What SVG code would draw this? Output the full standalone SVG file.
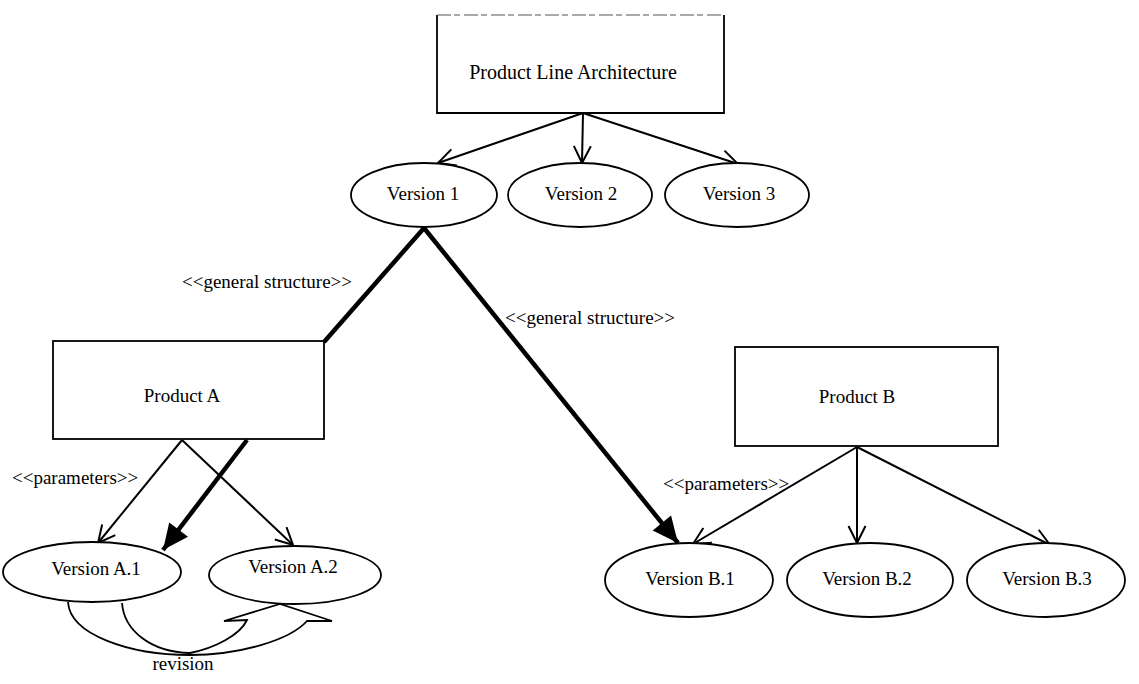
<svg xmlns="http://www.w3.org/2000/svg" width="1139" height="684" viewBox="0 0 1139 684">
<style>
  .box { fill: #fff; stroke: #000; stroke-width: 1.8; }
  .ell { fill: #fff; stroke: #000; stroke-width: 1.8; }
  .lbl { font-family: "Liberation Serif", "Times New Roman", serif; font-size: 19px; fill: #000; }
  .ctr { text-anchor: middle; }
  .thin { fill: none; stroke: #000; stroke-width: 2; marker-end: url(#open); }
  .thick { fill: none; stroke: #000; stroke-width: 4.5; }
</style>
<defs>
  <marker id="open" markerUnits="userSpaceOnUse" markerWidth="24" markerHeight="24" viewBox="-20 -12 24 24" refX="0" refY="0" orient="auto">
    <path d="M -17,-8.5 L 0,0 L -17,8.5" fill="none" stroke="#000" stroke-width="2"/>
  </marker>
  <marker id="solid" markerUnits="userSpaceOnUse" markerWidth="30" markerHeight="30" viewBox="-26 -14 28 28" refX="0" refY="0" orient="auto">
    <path d="M -24,-11 L 0,0 L -24,11 Z" fill="#000"/>
  </marker>
</defs>
<rect width="1139" height="684" fill="#fff"/>

<g id="connectors">
  <line class="thin" x1="583" y1="113" x2="438" y2="163"/>
  <line class="thin" x1="583" y1="113" x2="582" y2="163"/>
  <line class="thin" x1="583" y1="113" x2="738" y2="164"/>
  <line class="thick" x1="424" y1="228" x2="324" y2="342"/>
  <line class="thick" x1="424" y1="228" x2="678" y2="543" marker-end="url(#solid)"/>
  <line class="thick" x1="247" y1="440" x2="163" y2="550" marker-end="url(#solid)"/>
  <line class="thin" x1="182" y1="440" x2="98" y2="543"/>
  <line class="thin" x1="182" y1="440" x2="293" y2="545"/>
  <line class="thin" x1="857" y1="447" x2="693" y2="544"/>
  <line class="thin" x1="857" y1="447" x2="857" y2="543"/>
  <line class="thin" x1="857" y1="447" x2="1050" y2="545"/>
  <path id="revision-arrow" d="M 68,602 C 70,635 130,655 190,655 C 240,655 290,640 307,621 L 332,621 L 280,604 L 224,621 L 247,620 C 240,635 215,648 190,653 C 150,652 124,630 122,603" fill="none" stroke="#000" stroke-width="1.8" stroke-linejoin="miter"/>
  <text class="lbl" x="182" y="288">&lt;&lt;general structure&gt;&gt;</text>
  <text class="lbl" x="505" y="324">&lt;&lt;general structure&gt;&gt;</text>
  <text class="lbl" x="12" y="484">&lt;&lt;parameters&gt;&gt;</text>
  <text class="lbl" x="663" y="490">&lt;&lt;parameters&gt;&gt;</text>
  <text class="lbl ctr" x="183" y="670">revision</text>
</g>

<g id="pla">
  <rect x="437" y="15" width="287" height="98" fill="#fff" stroke="none"/>
  <path d="M 437,15 L 437,113 L 724,113 L 724,15" fill="none" stroke="#000" stroke-width="1.8"/>
  <line x1="437" y1="15" x2="724" y2="15" stroke="#555" stroke-width="1.2" stroke-dasharray="14 3 6 4"/>
  <text class="lbl ctr" x="573" y="79" style="font-size:20px">Product  Line Architecture</text>
</g>

<g id="v1">
  <ellipse class="ell" cx="424" cy="195" rx="73" ry="32"/>
  <text class="lbl ctr" x="423" y="200">Version 1</text>
</g>
<g id="v2">
  <ellipse class="ell" cx="580" cy="195" rx="72" ry="32"/>
  <text class="lbl ctr" x="581" y="200">Version 2</text>
</g>
<g id="v3">
  <ellipse class="ell" cx="737" cy="195" rx="72" ry="32"/>
  <text class="lbl ctr" x="739" y="200">Version 3</text>
</g>

<g id="productA">
  <rect class="box" x="53" y="341" width="271" height="98"/>
  <text class="lbl ctr" x="182" y="402">Product  A</text>
</g>
<g id="productB">
  <rect class="box" x="735" y="347" width="263" height="99"/>
  <text class="lbl ctr" x="857" y="403">Product  B</text>
</g>

<g id="vA1">
  <ellipse class="ell" cx="92" cy="572" rx="89" ry="30"/>
  <text class="lbl ctr" x="96" y="575">Version A.1</text>
</g>
<g id="vA2">
  <ellipse class="ell" cx="295" cy="575" rx="86" ry="29"/>
  <text class="lbl ctr" x="293" y="573">Version A.2</text>
</g>

<g id="vB1">
  <ellipse class="ell" cx="689" cy="580" rx="84" ry="37"/>
  <text class="lbl ctr" x="690" y="585">Version B.1</text>
</g>
<g id="vB2">
  <ellipse class="ell" cx="870" cy="580" rx="83" ry="37"/>
  <text class="lbl ctr" x="867" y="585">Version B.2</text>
</g>
<g id="vB3">
  <ellipse class="ell" cx="1046" cy="580" rx="79" ry="37"/>
  <text class="lbl ctr" x="1047" y="585">Version B.3</text>
</g>
</svg>
